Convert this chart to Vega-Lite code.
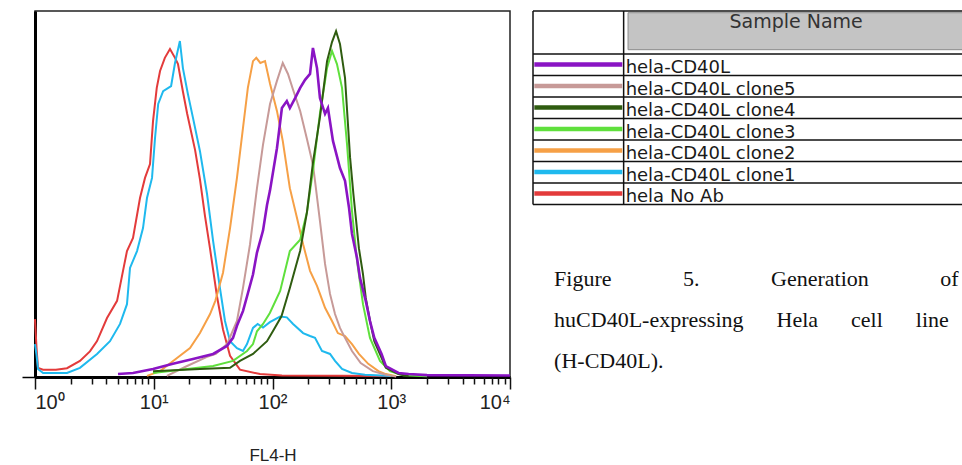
{
  "$schema": "https://vega.github.io/schema/vega-lite/v6.json",
  "padding": {"left": 20, "top": 10, "right": 0, "bottom": 0},
  "background": "white",
  "spacing": 16,
  "config": {"font": "Liberation Sans", "view": {"stroke": null}},
  "hconcat": [
    {
      "width": 475,
      "height": 366,
      "view": {"stroke": "#222", "strokeWidth": 1.5},
      "data": {"values": [
        {"sample":"hela No Ab","fl4":1,"count":15.8},{"sample":"hela No Ab","fl4":1.03,"count":8},{"sample":"hela No Ab","fl4":1.06,"count":2.5},{"sample":"hela No Ab","fl4":1.17,"count":2.0},{"sample":"hela No Ab","fl4":1.5,"count":2.0},{"sample":"hela No Ab","fl4":1.86,"count":2.4},{"sample":"hela No Ab","fl4":2.39,"count":4.4},{"sample":"hela No Ab","fl4":2.9,"count":7.0},{"sample":"hela No Ab","fl4":3.33,"count":9.8},{"sample":"hela No Ab","fl4":4.04,"count":16.1},{"sample":"hela No Ab","fl4":4.91,"count":20.8},{"sample":"hela No Ab","fl4":5.51,"count":29.0},{"sample":"hela No Ab","fl4":5.95,"count":34.4},{"sample":"hela No Ab","fl4":6.69,"count":38.0},{"sample":"hela No Ab","fl4":7.66,"count":48.9},{"sample":"hela No Ab","fl4":8.44,"count":54.4},{"sample":"hela No Ab","fl4":9.3,"count":58.2},{"sample":"hela No Ab","fl4":9.86,"count":69.9},{"sample":"hela No Ab","fl4":10.6,"count":79.0},{"sample":"hela No Ab","fl4":11.3,"count":83.6},{"sample":"hela No Ab","fl4":12.4,"count":87.2},{"sample":"hela No Ab","fl4":13.7,"count":89.6},{"sample":"hela No Ab","fl4":15.1,"count":87.2},{"sample":"hela No Ab","fl4":16.0,"count":85.5},{"sample":"hela No Ab","fl4":17.6,"count":78},{"sample":"hela No Ab","fl4":19.1,"count":72},{"sample":"hela No Ab","fl4":22.3,"count":62},{"sample":"hela No Ab","fl4":24.5,"count":54},{"sample":"hela No Ab","fl4":27,"count":44},{"sample":"hela No Ab","fl4":29.8,"count":35},{"sample":"hela No Ab","fl4":34.1,"count":22},{"sample":"hela No Ab","fl4":38.3,"count":13},{"sample":"hela No Ab","fl4":43.9,"count":5.8},{"sample":"hela No Ab","fl4":53.2,"count":2.0},{"sample":"hela No Ab","fl4":78.5,"count":0.8},{"sample":"hela No Ab","fl4":120,"count":0.4},{"sample":"hela No Ab","fl4":1000,"count":0.3},

        {"sample":"hela-CD40L clone1","fl4":1,"count":9},{"sample":"hela-CD40L clone1","fl4":1.03,"count":6},{"sample":"hela-CD40L clone1","fl4":1.06,"count":2.2},{"sample":"hela-CD40L clone1","fl4":1.17,"count":1.1},{"sample":"hela-CD40L clone1","fl4":1.86,"count":1.1},{"sample":"hela-CD40L clone1","fl4":2.39,"count":2.5},{"sample":"hela-CD40L clone1","fl4":3.33,"count":6.3},{"sample":"hela-CD40L clone1","fl4":4.28,"count":9.8},{"sample":"hela-CD40L clone1","fl4":5.2,"count":14.5},{"sample":"hela-CD40L clone1","fl4":5.95,"count":19.9},{"sample":"hela-CD40L clone1","fl4":6.31,"count":29.8},{"sample":"hela-CD40L clone1","fl4":7.23,"count":34.4},{"sample":"hela-CD40L clone1","fl4":8.12,"count":40.7},{"sample":"hela-CD40L clone1","fl4":8.77,"count":48.9},{"sample":"hela-CD40L clone1","fl4":9.67,"count":54.4},{"sample":"hela-CD40L clone1","fl4":10.25,"count":65.3},{"sample":"hela-CD40L clone1","fl4":10.9,"count":74.6},{"sample":"hela-CD40L clone1","fl4":12.0,"count":78.1},{"sample":"hela-CD40L clone1","fl4":14.0,"count":79.5},{"sample":"hela-CD40L clone1","fl4":15.1,"count":85.8},{"sample":"hela-CD40L clone1","fl4":16.6,"count":91.8},{"sample":"hela-CD40L clone1","fl4":17.6,"count":84.4},{"sample":"hela-CD40L clone1","fl4":19.4,"count":77.3},{"sample":"hela-CD40L clone1","fl4":21.4,"count":70.8},{"sample":"hela-CD40L clone1","fl4":24.5,"count":61.7},{"sample":"hela-CD40L clone1","fl4":28.1,"count":50.0},{"sample":"hela-CD40L clone1","fl4":31.6,"count":37.2},{"sample":"hela-CD40L clone1","fl4":36.1,"count":24.3},{"sample":"hela-CD40L clone1","fl4":39.8,"count":15.3},{"sample":"hela-CD40L clone1","fl4":43.9,"count":9.8},{"sample":"hela-CD40L clone1","fl4":50.2,"count":7.9},{"sample":"hela-CD40L clone1","fl4":56.4,"count":7.1},{"sample":"hela-CD40L clone1","fl4":61,"count":9},{"sample":"hela-CD40L clone1","fl4":68.5,"count":13.4},{"sample":"hela-CD40L clone1","fl4":75,"count":14.5},{"sample":"hela-CD40L clone1","fl4":83.2,"count":13.5},{"sample":"hela-CD40L clone1","fl4":95,"count":15.0},{"sample":"hela-CD40L clone1","fl4":116,"count":16.5},{"sample":"hela-CD40L clone1","fl4":132,"count":16.3},{"sample":"hela-CD40L clone1","fl4":149,"count":14.5},{"sample":"hela-CD40L clone1","fl4":181,"count":12.0},{"sample":"hela-CD40L clone1","fl4":207,"count":11.2},{"sample":"hela-CD40L clone1","fl4":228,"count":10.7},{"sample":"hela-CD40L clone1","fl4":261,"count":7.1},{"sample":"hela-CD40L clone1","fl4":305,"count":6.3},{"sample":"hela-CD40L clone1","fl4":336,"count":4.4},{"sample":"hela-CD40L clone1","fl4":385,"count":2.2},{"sample":"hela-CD40L clone1","fl4":467,"count":1.1},{"sample":"hela-CD40L clone1","fl4":600,"count":0.6},{"sample":"hela-CD40L clone1","fl4":1000,"count":0.3},

        {"sample":"hela-CD40L clone2","fl4":8.77,"count":0.3},{"sample":"hela-CD40L clone2","fl4":11.3,"count":1.6},{"sample":"hela-CD40L clone2","fl4":15.7,"count":5.2},{"sample":"hela-CD40L clone2","fl4":20.2,"count":7.9},{"sample":"hela-CD40L clone2","fl4":24.5,"count":12.0},{"sample":"hela-CD40L clone2","fl4":29.8,"count":17.2},{"sample":"hela-CD40L clone2","fl4":33,"count":20.8},{"sample":"hela-CD40L clone2","fl4":38.3,"count":28.5},{"sample":"hela-CD40L clone2","fl4":43.9,"count":40.7},{"sample":"hela-CD40L clone2","fl4":50.2,"count":54.4},{"sample":"hela-CD40L clone2","fl4":56.4,"count":68},{"sample":"hela-CD40L clone2","fl4":62,"count":79},{"sample":"hela-CD40L clone2","fl4":68.5,"count":86.3},{"sample":"hela-CD40L clone2","fl4":73,"count":87.2},{"sample":"hela-CD40L clone2","fl4":79,"count":85.8},{"sample":"hela-CD40L clone2","fl4":86.5,"count":86.3},{"sample":"hela-CD40L clone2","fl4":95.3,"count":80.1},{"sample":"hela-CD40L clone2","fl4":109,"count":72.7},{"sample":"hela-CD40L clone2","fl4":122,"count":64.5},{"sample":"hela-CD40L clone2","fl4":140,"count":51.6},{"sample":"hela-CD40L clone2","fl4":161,"count":43.4},{"sample":"hela-CD40L clone2","fl4":181,"count":36.3},{"sample":"hela-CD40L clone2","fl4":207,"count":29.0},{"sample":"hela-CD40L clone2","fl4":237,"count":24.9},{"sample":"hela-CD40L clone2","fl4":251,"count":22.7},{"sample":"hela-CD40L clone2","fl4":277,"count":18.9},{"sample":"hela-CD40L clone2","fl4":317,"count":15.3},{"sample":"hela-CD40L clone2","fl4":355,"count":12.0},{"sample":"hela-CD40L clone2","fl4":408,"count":11.2},{"sample":"hela-CD40L clone2","fl4":467,"count":9.0},{"sample":"hela-CD40L clone2","fl4":534,"count":6.3},{"sample":"hela-CD40L clone2","fl4":640,"count":3.6},{"sample":"hela-CD40L clone2","fl4":780,"count":1.6},{"sample":"hela-CD40L clone2","fl4":900,"count":0.8},{"sample":"hela-CD40L clone2","fl4":1100,"count":0.2},

        {"sample":"hela-CD40L clone5","fl4":12.9,"count":0.3},{"sample":"hela-CD40L clone5","fl4":19.1,"count":3.0},{"sample":"hela-CD40L clone5","fl4":28.1,"count":5.5},{"sample":"hela-CD40L clone5","fl4":33.3,"count":6.3},{"sample":"hela-CD40L clone5","fl4":41.4,"count":9.0},{"sample":"hela-CD40L clone5","fl4":50.2,"count":15.3},{"sample":"hela-CD40L clone5","fl4":56.4,"count":24.3},{"sample":"hela-CD40L clone5","fl4":64.7,"count":36.3},{"sample":"hela-CD40L clone5","fl4":74,"count":51.6},{"sample":"hela-CD40L clone5","fl4":83.2,"count":63.5},{"sample":"hela-CD40L clone5","fl4":95.3,"count":74.6},{"sample":"hela-CD40L clone5","fl4":109,"count":80.9},{"sample":"hela-CD40L clone5","fl4":122,"count":85.8},{"sample":"hela-CD40L clone5","fl4":135,"count":82.8},{"sample":"hela-CD40L clone5","fl4":149,"count":78.5},{"sample":"hela-CD40L clone5","fl4":171,"count":72.7},{"sample":"hela-CD40L clone5","fl4":195,"count":65},{"sample":"hela-CD40L clone5","fl4":219,"count":58},{"sample":"hela-CD40L clone5","fl4":228,"count":53.6},{"sample":"hela-CD40L clone5","fl4":251,"count":42.6},{"sample":"hela-CD40L clone5","fl4":277,"count":30.9},{"sample":"hela-CD40L clone5","fl4":305,"count":22.7},{"sample":"hela-CD40L clone5","fl4":336,"count":17.2},{"sample":"hela-CD40L clone5","fl4":370,"count":13.4},{"sample":"hela-CD40L clone5","fl4":408,"count":10.7},{"sample":"hela-CD40L clone5","fl4":467,"count":7.1},{"sample":"hela-CD40L clone5","fl4":553,"count":3.8},{"sample":"hela-CD40L clone5","fl4":700,"count":1.6},{"sample":"hela-CD40L clone5","fl4":900,"count":0.6},{"sample":"hela-CD40L clone5","fl4":1100,"count":0.1},

        {"sample":"hela-CD40L clone3","fl4":9.86,"count":1.1},{"sample":"hela-CD40L clone3","fl4":19.1,"count":2.2},{"sample":"hela-CD40L clone3","fl4":31.6,"count":3.0},{"sample":"hela-CD40L clone3","fl4":46.5,"count":4.4},{"sample":"hela-CD40L clone3","fl4":61,"count":7.1},{"sample":"hela-CD40L clone3","fl4":68.5,"count":9},{"sample":"hela-CD40L clone3","fl4":74,"count":12.5},{"sample":"hela-CD40L clone3","fl4":83.2,"count":14.5},{"sample":"hela-CD40L clone3","fl4":95,"count":17.5},{"sample":"hela-CD40L clone3","fl4":116,"count":23.5},{"sample":"hela-CD40L clone3","fl4":140,"count":34.4},{"sample":"hela-CD40L clone3","fl4":171,"count":37.5},{"sample":"hela-CD40L clone3","fl4":195,"count":45},{"sample":"hela-CD40L clone3","fl4":219,"count":56.3},{"sample":"hela-CD40L clone3","fl4":251,"count":72},{"sample":"hela-CD40L clone3","fl4":288,"count":84.4},{"sample":"hela-CD40L clone3","fl4":317,"count":89.1},{"sample":"hela-CD40L clone3","fl4":349,"count":85.5},{"sample":"hela-CD40L clone3","fl4":385,"count":79.0},{"sample":"hela-CD40L clone3","fl4":424,"count":63.7},{"sample":"hela-CD40L clone3","fl4":467,"count":45.4},{"sample":"hela-CD40L clone3","fl4":515,"count":31.7},{"sample":"hela-CD40L clone3","fl4":578,"count":19.9},{"sample":"hela-CD40L clone3","fl4":662,"count":10.7},{"sample":"hela-CD40L clone3","fl4":804,"count":4.4},{"sample":"hela-CD40L clone3","fl4":975,"count":1.6},{"sample":"hela-CD40L clone3","fl4":1256,"count":0.5},{"sample":"hela-CD40L clone3","fl4":2000,"count":0.2},

        {"sample":"hela-CD40L clone4","fl4":9.86,"count":1.6},{"sample":"hela-CD40L clone4","fl4":24.5,"count":2.2},{"sample":"hela-CD40L clone4","fl4":43.9,"count":2.5},{"sample":"hela-CD40L clone4","fl4":53.2,"count":4.4},{"sample":"hela-CD40L clone4","fl4":68.5,"count":6.3},{"sample":"hela-CD40L clone4","fl4":89.9,"count":9.8},{"sample":"hela-CD40L clone4","fl4":101,"count":12.6},{"sample":"hela-CD40L clone4","fl4":119,"count":16.6},{"sample":"hela-CD40L clone4","fl4":140,"count":24.3},{"sample":"hela-CD40L clone4","fl4":171,"count":34.5},{"sample":"hela-CD40L clone4","fl4":195,"count":45},{"sample":"hela-CD40L clone4","fl4":219,"count":58.5},{"sample":"hela-CD40L clone4","fl4":251,"count":71},{"sample":"hela-CD40L clone4","fl4":288,"count":86.3},{"sample":"hela-CD40L clone4","fl4":317,"count":91.5},{"sample":"hela-CD40L clone4","fl4":343,"count":94.5},{"sample":"hela-CD40L clone4","fl4":370,"count":91.0},{"sample":"hela-CD40L clone4","fl4":408,"count":81.7},{"sample":"hela-CD40L clone4","fl4":450,"count":60},{"sample":"hela-CD40L clone4","fl4":480,"count":50},{"sample":"hela-CD40L clone4","fl4":505,"count":43},{"sample":"hela-CD40L clone4","fl4":534,"count":35.2},{"sample":"hela-CD40L clone4","fl4":578,"count":28.1},{"sample":"hela-CD40L clone4","fl4":610,"count":21.6},{"sample":"hela-CD40L clone4","fl4":662,"count":15.3},{"sample":"hela-CD40L clone4","fl4":720,"count":9.8},{"sample":"hela-CD40L clone4","fl4":829,"count":5.2},{"sample":"hela-CD40L clone4","fl4":900,"count":2.5},{"sample":"hela-CD40L clone4","fl4":1150,"count":0.8},{"sample":"hela-CD40L clone4","fl4":1400,"count":0.2},

        {"sample":"hela-CD40L","fl4":5,"count":0.8},{"sample":"hela-CD40L","fl4":6.69,"count":1.1},{"sample":"hela-CD40L","fl4":9.86,"count":2.2},{"sample":"hela-CD40L","fl4":14.5,"count":3.6},{"sample":"hela-CD40L","fl4":21.4,"count":4.9},{"sample":"hela-CD40L","fl4":31.6,"count":6.3},{"sample":"hela-CD40L","fl4":41.4,"count":8.5},{"sample":"hela-CD40L","fl4":46.5,"count":10.7},{"sample":"hela-CD40L","fl4":50.2,"count":14},{"sample":"hela-CD40L","fl4":56.4,"count":18},{"sample":"hela-CD40L","fl4":61,"count":22},{"sample":"hela-CD40L","fl4":68.5,"count":28},{"sample":"hela-CD40L","fl4":74,"count":34},{"sample":"hela-CD40L","fl4":83.2,"count":40},{"sample":"hela-CD40L","fl4":89.9,"count":47},{"sample":"hela-CD40L","fl4":95.3,"count":51},{"sample":"hela-CD40L","fl4":109,"count":62.5},{"sample":"hela-CD40L","fl4":120,"count":73.5},{"sample":"hela-CD40L","fl4":132,"count":75.4},{"sample":"hela-CD40L","fl4":140,"count":73.5},{"sample":"hela-CD40L","fl4":155,"count":76.2},{"sample":"hela-CD40L","fl4":171,"count":79.0},{"sample":"hela-CD40L","fl4":188,"count":81.2},{"sample":"hela-CD40L","fl4":207,"count":82.8},{"sample":"hela-CD40L","fl4":219,"count":89.9},{"sample":"hela-CD40L","fl4":237,"count":84.4},{"sample":"hela-CD40L","fl4":251,"count":76.2},{"sample":"hela-CD40L","fl4":277,"count":71.9},{"sample":"hela-CD40L","fl4":293,"count":73.5},{"sample":"hela-CD40L","fl4":323,"count":64.5},{"sample":"hela-CD40L","fl4":370,"count":57.1},{"sample":"hela-CD40L","fl4":408,"count":53.6},{"sample":"hela-CD40L","fl4":441,"count":46.2},{"sample":"hela-CD40L","fl4":467,"count":39.1},{"sample":"hela-CD40L","fl4":515,"count":32.5},{"sample":"hela-CD40L","fl4":546,"count":27.0},{"sample":"hela-CD40L","fl4":610,"count":20.8},{"sample":"hela-CD40L","fl4":662,"count":15.3},{"sample":"hela-CD40L","fl4":720,"count":10.7},{"sample":"hela-CD40L","fl4":829,"count":6.3},{"sample":"hela-CD40L","fl4":900,"count":3.0},{"sample":"hela-CD40L","fl4":1150,"count":1.1},{"sample":"hela-CD40L","fl4":1400,"count":0.8},{"sample":"hela-CD40L","fl4":2000,"count":0.5},{"sample":"hela-CD40L","fl4":10000,"count":0.4}
      ]},
      "layer": [
        {
          "mark": {"type": "line"},
          "encoding": {
            "x": {
              "field": "fl4", "type": "quantitative",
              "scale": {"type": "log", "domain": [1, 10000], "nice": false},
              "axis": {
                "orient": "bottom",
                "values": [1, 10, 100, 1000, 10000],
                "labelExpr": "'10' + ['⁰','¹','²','³','⁴'][round(log(datum.value)/LN10)]",
                "labelFlush": true, "labelFontSize": 20, "labelColor": "#222", "labelPadding": 3,
                "tickSize": 12, "tickWidth": 1.5, "tickColor": "#111",
                "domainColor": "#000", "domainWidth": 3, "grid": false,
                "title": "FL4-H", "titleFontSize": 17, "titleFontWeight": "normal", "titleColor": "#222", "titlePadding": 35
              }
            },
            "y": {
              "field": "count", "type": "quantitative",
              "scale": {"domain": [0, 100], "nice": false},
              "axis": {"values": [0], "labels": false, "tickSize": 13, "tickWidth": 1.5, "tickColor": "#000", "domainColor": "#000", "domainWidth": 3, "grid": false, "title": null}
            },
            "color": {
              "field": "sample", "type": "nominal",
              "scale": {
                "domain": ["hela-CD40L", "hela-CD40L clone5", "hela-CD40L clone4", "hela-CD40L clone3", "hela-CD40L clone2", "hela-CD40L clone1", "hela No Ab"],
                "range": ["#8a14c4", "#c79a98", "#2f5c10", "#5fe03c", "#f6a046", "#1fb9ee", "#e33b3b"]
              },
              "legend": null
            },
            "strokeWidth": {"condition": {"test": "datum.sample === 'hela-CD40L'", "value": 2.6}, "value": 2}
          }
        },
        {
          "mark": {"type": "rule", "opacity": 0},
          "encoding": {
            "x": {
              "field": "fl4", "type": "quantitative",
              "axis": {
                "orient": "bottom",
                "values": [2,3,4,5,6,7,8,9,20,30,40,50,60,70,80,90,200,300,400,500,600,700,800,900,2000,3000,4000,5000,6000,7000,8000,9000],
                "labels": false, "domain": false, "tickSize": 7, "tickWidth": 1.5, "tickColor": "#111", "grid": false, "title": null
              }
            }
          }
        }
      ],
      "resolve": {"axis": {"x": "independent"}}
    },
    {
      "width": 440,
      "height": 455,
      "layer": [
        {
          "data": {"values": [{"header": "Sample Name"}]},
          "mark": {"type": "rect", "fill": "#c4c4c4", "stroke": "#8a8a8a", "strokeWidth": 1},
          "encoding": {
            "x": {"datum": 21.6, "type": "quantitative", "scale": {"domain": [0, 100], "nice": false, "zero": false}, "axis": null},
            "x2": {"datum": 101},
            "y": {"datum": -0.92, "type": "quantitative", "scale": {"domain": [-1, 20.163], "reverse": true, "nice": false, "zero": false}, "axis": null},
            "y2": {"datum": 0.8}
          }
        },
        {
          "data": {"values": [{"header": "Sample Name"}]},
          "mark": {"type": "text", "font": "DejaVu Sans", "fontSize": 19, "color": "#333", "align": "center", "baseline": "middle"},
          "encoding": {
            "x": {"datum": 59.8, "type": "quantitative", "scale": {"domain": [0, 100], "nice": false, "zero": false}, "axis": null},
            "y": {"datum": -0.5, "type": "quantitative", "scale": {"domain": [-1, 20.163], "reverse": true, "nice": false, "zero": false}, "axis": null},
            "text": {"field": "header"}
          }
        },
        {
          "data": {"values": [{"edge": "top"}]},
          "mark": {"type": "rule", "color": "#111", "strokeWidth": 1.5},
          "encoding": {
            "x": {"datum": 0, "type": "quantitative", "scale": {"domain": [0, 100], "nice": false, "zero": false}, "axis": null},
            "x2": {"datum": 101},
            "y": {"datum": -1, "type": "quantitative", "scale": {"domain": [-1, 20.163], "reverse": true, "nice": false, "zero": false}, "axis": null}
          }
        },
        {
          "data": {"values": [{"edge": "bottom"}]},
          "mark": {"type": "rule", "color": "#111", "strokeWidth": 1.5},
          "encoding": {
            "x": {"datum": 0, "type": "quantitative", "scale": {"domain": [0, 100], "nice": false, "zero": false}, "axis": null},
            "x2": {"datum": 101},
            "y": {"datum": 8, "type": "quantitative", "scale": {"domain": [-1, 20.163], "reverse": true, "nice": false, "zero": false}, "axis": null}
          }
        },
        {
          "data": {"values": [{"edge": "left"}]},
          "mark": {"type": "rule", "color": "#111", "strokeWidth": 1.5},
          "encoding": {
            "x": {"datum": 0, "type": "quantitative", "scale": {"domain": [0, 100], "nice": false, "zero": false}, "axis": null},
            "y": {"datum": -1, "type": "quantitative", "scale": {"domain": [-1, 20.163], "reverse": true, "nice": false, "zero": false}, "axis": null},
            "y2": {"datum": 8}
          }
        },
        {
          "data": {"values": [{"edge": "divider"}]},
          "mark": {"type": "rule", "color": "#111", "strokeWidth": 1.5},
          "encoding": {
            "x": {"datum": 20.6, "type": "quantitative", "scale": {"domain": [0, 100], "nice": false, "zero": false}, "axis": null},
            "y": {"datum": -1, "type": "quantitative", "scale": {"domain": [-1, 20.163], "reverse": true, "nice": false, "zero": false}, "axis": null},
            "y2": {"datum": 8}
          }
        },
        {
          "data": {"name": "legendrows", "values": [
            {"row": 1, "sample": "hela-CD40L"},
            {"row": 2, "sample": "hela-CD40L clone5"},
            {"row": 3, "sample": "hela-CD40L clone4"},
            {"row": 4, "sample": "hela-CD40L clone3"},
            {"row": 5, "sample": "hela-CD40L clone2"},
            {"row": 6, "sample": "hela-CD40L clone1"},
            {"row": 7, "sample": "hela No Ab"}
          ]},
          "layer": [
            {
              "mark": {"type": "rule", "color": "#111", "strokeWidth": 1.5},
              "encoding": {
                "x": {"datum": 0, "type": "quantitative", "scale": {"domain": [0, 100], "nice": false, "zero": false}, "axis": null},
                "x2": {"datum": 101},
                "y": {"field": "row", "type": "quantitative", "scale": {"domain": [-1, 20.163], "reverse": true, "nice": false, "zero": false}, "axis": null}
              }
            },
            {
              "mark": {"type": "rule", "strokeWidth": 4.5, "yOffset": 10.5},
              "encoding": {
                "x": {"datum": 0.3, "type": "quantitative", "scale": {"domain": [0, 100], "nice": false, "zero": false}, "axis": null},
                "x2": {"datum": 20.3},
                "y": {"field": "row", "type": "quantitative", "scale": {"domain": [-1, 20.163], "reverse": true, "nice": false, "zero": false}, "axis": null},
                "color": {"field": "sample", "type": "nominal", "legend": null}
              }
            },
            {
              "mark": {"type": "text", "font": "DejaVu Sans", "fontSize": 18, "color": "#1a1a1a", "align": "left", "baseline": "alphabetic", "dx": 2, "dy": 19.5},
              "encoding": {
                "x": {"datum": 20.6, "type": "quantitative", "scale": {"domain": [0, 100], "nice": false, "zero": false}, "axis": null},
                "y": {"field": "row", "type": "quantitative", "scale": {"domain": [-1, 20.163], "reverse": true, "nice": false, "zero": false}, "axis": null},
                "text": {"field": "sample"}
              }
            }
          ]
        },
        {
          "data": {"values": [
            {"line": 1, "caption": "Figure\u00a0\u00a0\u00a0\u00a0\u00a0\u00a0\u00a0\u00a0\u00a0\u00a0\u00a0\u00a0\u00a05.\u00a0\u00a0\u00a0\u00a0\u00a0\u00a0\u00a0\u00a0\u00a0\u00a0\u00a0\u00a0\u00a0Generation\u00a0\u00a0\u00a0\u00a0\u00a0\u00a0\u00a0\u00a0\u00a0\u00a0\u00a0\u00a0\u00a0of"},
            {"line": 2, "caption": "huCD40L-expressing\u00a0\u00a0\u00a0\u00a0\u00a0\u00a0Hela\u00a0\u00a0\u00a0\u00a0\u00a0\u00a0cell\u00a0\u00a0\u00a0\u00a0\u00a0\u00a0line"},
            {"line": 3, "caption": "(H-CD40L)."}
          ]},
          "mark": {"type": "text", "font": "Liberation Serif", "fontSize": 22, "color": "#111", "align": "left", "baseline": "alphabetic"},
          "encoding": {
            "x": {"datum": 4.8, "type": "quantitative", "scale": {"domain": [0, 100], "nice": false, "zero": false}, "axis": null},
            "y": {"field": "line", "type": "quantitative", "scale": {"domain": [-5.707, 5.39], "reverse": true, "nice": false, "zero": false}, "axis": null},
            "text": {"field": "caption"}
          }
        }
      ],
      "resolve": {"scale": {"y": "independent"}}
    }
  ]
}
